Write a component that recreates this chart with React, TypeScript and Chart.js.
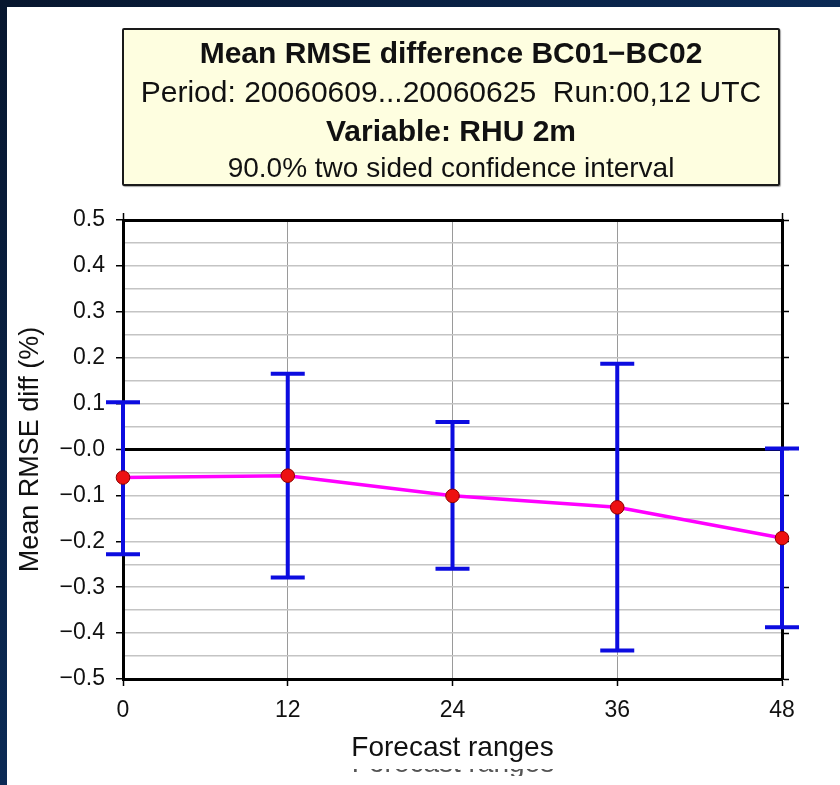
import React, { useEffect, useRef } from "react";
import { Chart, registerables } from "chart.js";

Chart.register(...registerables);

// ---- data ----
const forecastRanges = [0, 12, 24, 36, 48];
const meanDiff = [-0.061, -0.057, -0.101, -0.126, -0.193];
const upperBound = [0.103, 0.165, 0.06, 0.187, 0.002];
const lowerBound = [-0.228, -0.279, -0.26, -0.438, -0.387];

const yMin = -0.5;
const yMax = 0.5;
const yMinorStep = 0.05;
const yMajorStep = 0.1;
const xMin = 0;
const xMax = 48;
const xStep = 12;

const titleLine1 = "Mean RMSE difference BC01\u2212BC02";
const titleLine2 = "Period: 20060609...20060625\u00a0\u00a0Run:00,12 UTC";
const titleLine3 = "Variable: RHU 2m";
const titleLine4 = "90.0% two sided confidence interval";
const xTitle = "Forecast ranges";
const yTitle = "Mean RMSE diff (%)";

const FONT = "'Liberation Sans', Arial, Helvetica, sans-serif";

const isMajorY = (v: number) => Math.abs(Math.round(v * 100)) % 10 === 0;
const isEdgeY = (v: number) => Math.abs(Math.abs(v) - 0.5) < 1e-6;
const fmtY = (v: number) => {
  const r = Math.round(v * 10) / 10;
  return r > 0 ? r.toFixed(1) : "\u2212" + Math.abs(r).toFixed(1);
};

const errorBarPlugin = {
  id: "errorBars",
  beforeDatasetsDraw(chart: any) {
    const { ctx } = chart;
    const x = chart.scales.x;
    const y = chart.scales.y;
    ctx.save();
    ctx.strokeStyle = "#0c0ce0";
    ctx.lineWidth = 4;
    ctx.lineCap = "butt";
    const half = 17;
    forecastRanges.forEach((r, i) => {
      const px = x.getPixelForValue(r);
      const top = y.getPixelForValue(upperBound[i]);
      const bot = y.getPixelForValue(lowerBound[i]);
      ctx.beginPath();
      ctx.moveTo(px, top);
      ctx.lineTo(px, bot);
      ctx.moveTo(px - half, top);
      ctx.lineTo(px + half, top);
      ctx.moveTo(px - half, bot);
      ctx.lineTo(px + half, bot);
      ctx.stroke();
    });
    ctx.restore();
  },
};

function ChartCanvas() {
  const ref = useRef<HTMLCanvasElement | null>(null);
  useEffect(() => {
    if (!ref.current) return;
    Chart.defaults.font.family = FONT;
    const chart = new Chart(ref.current, {
      type: "line",
      data: {
        datasets: [
          {
            data: forecastRanges.map((r, i) => ({ x: r, y: meanDiff[i] })),
            borderColor: "#ff00ff",
            borderWidth: 3.5,
            pointRadius: 6.8,
            pointBackgroundColor: "#ee1111",
            pointBorderColor: "#8a0000",
            pointBorderWidth: 1,
            tension: 0,
            clip: false as any,
          },
        ],
      },
      options: {
        responsive: false,
        animation: false,
        devicePixelRatio: 1,
        layout: { padding: 0 },
        plugins: {
          legend: { display: false },
          tooltip: { enabled: false },
          title: { display: false },
        },
        scales: {
          x: {
            type: "linear",
            position: "bottom",
            min: xMin,
            max: xMax,
            ticks: {
              stepSize: xStep,
              font: { size: 23 },
              color: "#111",
              padding: 11,
              maxRotation: 0,
            },
            grid: {
              color: (c: any) => {
                const v = c.tick ? c.tick.value : 0;
                return v === xMin || v === xMax ? "rgba(0,0,0,0)" : "#9a9a9a";
              },
              lineWidth: 1,
              tickLength: 7,
              tickColor: "#000",
              tickWidth: 1.5,
            },
            border: { display: true, color: "#000", width: 3 },
            title: {
              display: true,
              text: xTitle,
              font: { size: 28 },
              color: "#111",
              padding: { top: 0, bottom: 20 },
            },
            afterFit: (s: any) => {
              s.height = 106;
            },
          },
          xT: {
            type: "linear",
            position: "top",
            min: xMin,
            max: xMax,
            ticks: { stepSize: xStep, display: false },
            grid: {
              drawOnChartArea: false,
              tickLength: 7,
              tickColor: (c: any) => {
                const v = c.tick ? c.tick.value : 0;
                return v === xMin || v === xMax ? "#000" : "rgba(0,0,0,0)";
              },
              tickWidth: 1.5,
            },
            border: { display: true, color: "#000", width: 3 },
            afterFit: (s: any) => {
              s.height = 220;
            },
          },
          y: {
            type: "linear",
            position: "left",
            min: yMin,
            max: yMax,
            ticks: {
              stepSize: yMinorStep,
              autoSkip: false,
              font: { size: 23 },
              color: "#111",
              padding: 11,
              callback: (v: any) => (isMajorY(Number(v)) ? fmtY(Number(v)) : ""),
            },
            grid: {
              color: (c: any) => {
                const v = c.tick ? c.tick.value : 1;
                if (isEdgeY(v)) return "rgba(0,0,0,0)";
                if (Math.abs(v) < 1e-6) return "#000";
                return "#c4c4c4";
              },
              lineWidth: (c: any) => {
                const v = c.tick ? c.tick.value : 1;
                return Math.abs(v) < 1e-6 ? 3 : 1.5;
              },
              tickLength: 7,
              tickColor: (c: any) => {
                const v = c.tick ? c.tick.value : 1;
                return isMajorY(v) ? "#000" : "rgba(0,0,0,0)";
              },
              tickWidth: 1.5,
            },
            border: { display: true, color: "#000", width: 3 },
            title: {
              display: true,
              text: yTitle,
              font: { size: 27 },
              color: "#111",
              padding: { top: 14, bottom: 0 },
            },
            afterFit: (s: any) => {
              s.width = 123;
            },
          },
          yR: {
            type: "linear",
            position: "right",
            min: yMin,
            max: yMax,
            ticks: { stepSize: yMajorStep, display: false },
            grid: {
              drawOnChartArea: false,
              tickLength: 7,
              tickColor: "#000",
              tickWidth: 1.5,
            },
            border: { display: true, color: "#000", width: 3 },
            afterFit: (s: any) => {
              s.width = 58;
            },
          },
        },
      } as any,
      plugins: [errorBarPlugin],
    });
    return () => chart.destroy();
  }, []);
  return (
    <canvas
      ref={ref}
      width={840}
      height={785}
      style={{ position: "absolute", left: 0, top: 0, width: 840, height: 785 }}
    />
  );
}

const lineStyle = (top: number, size: number, bold: boolean): React.CSSProperties => ({
  position: "absolute",
  left: 0,
  right: 0,
  top,
  height: 36,
  lineHeight: "36px",
  textAlign: "center",
  fontSize: size,
  fontWeight: bold ? 700 : 400,
  color: "#111",
  whiteSpace: "nowrap",
});

export default function App() {
  return (
    <div
      style={{
        position: "absolute",
        left: 0,
        top: 0,
        width: 840,
        height: 785,
        overflow: "hidden",
        fontFamily: FONT,
        background: "linear-gradient(to bottom right, #07162e 0%, #0b2a55 50%, #00386e 100%)",
      }}
    >
      <div
        style={{
          position: "absolute",
          left: 7,
          top: 7,
          width: 833,
          height: 778,
          background: "#ffffff",
        }}
      />
      <ChartCanvas />
      <div
        style={{
          position: "absolute",
          left: 122,
          top: 28,
          width: 654,
          height: 154,
          border: "2px solid #1a1a1a",
          borderRadius: 2,
          background: "#fefee0",
          boxShadow: "1px 1px 1px rgba(0,0,0,0.35)",
        }}
      >
        <div style={lineStyle(5, 30, true)}>{titleLine1}</div>
        <div style={lineStyle(44, 30, false)}>{titleLine2}</div>
        <div style={lineStyle(83, 30, true)}>{titleLine3}</div>
        <div style={lineStyle(120, 28, false)}>{titleLine4}</div>
      </div>
      <div
        style={{
          position: "absolute",
          left: 0,
          width: 906,
          top: 769,
          height: 7,
          overflow: "hidden",
        }}
      >
        <div
          style={{
            position: "absolute",
            left: 0,
            right: 0,
            top: -20,
            lineHeight: "28px",
            fontSize: 28,
            textAlign: "center",
            color: "#555",
            whiteSpace: "nowrap",
          }}
        >
          {xTitle}
        </div>
      </div>
    </div>
  );
}
